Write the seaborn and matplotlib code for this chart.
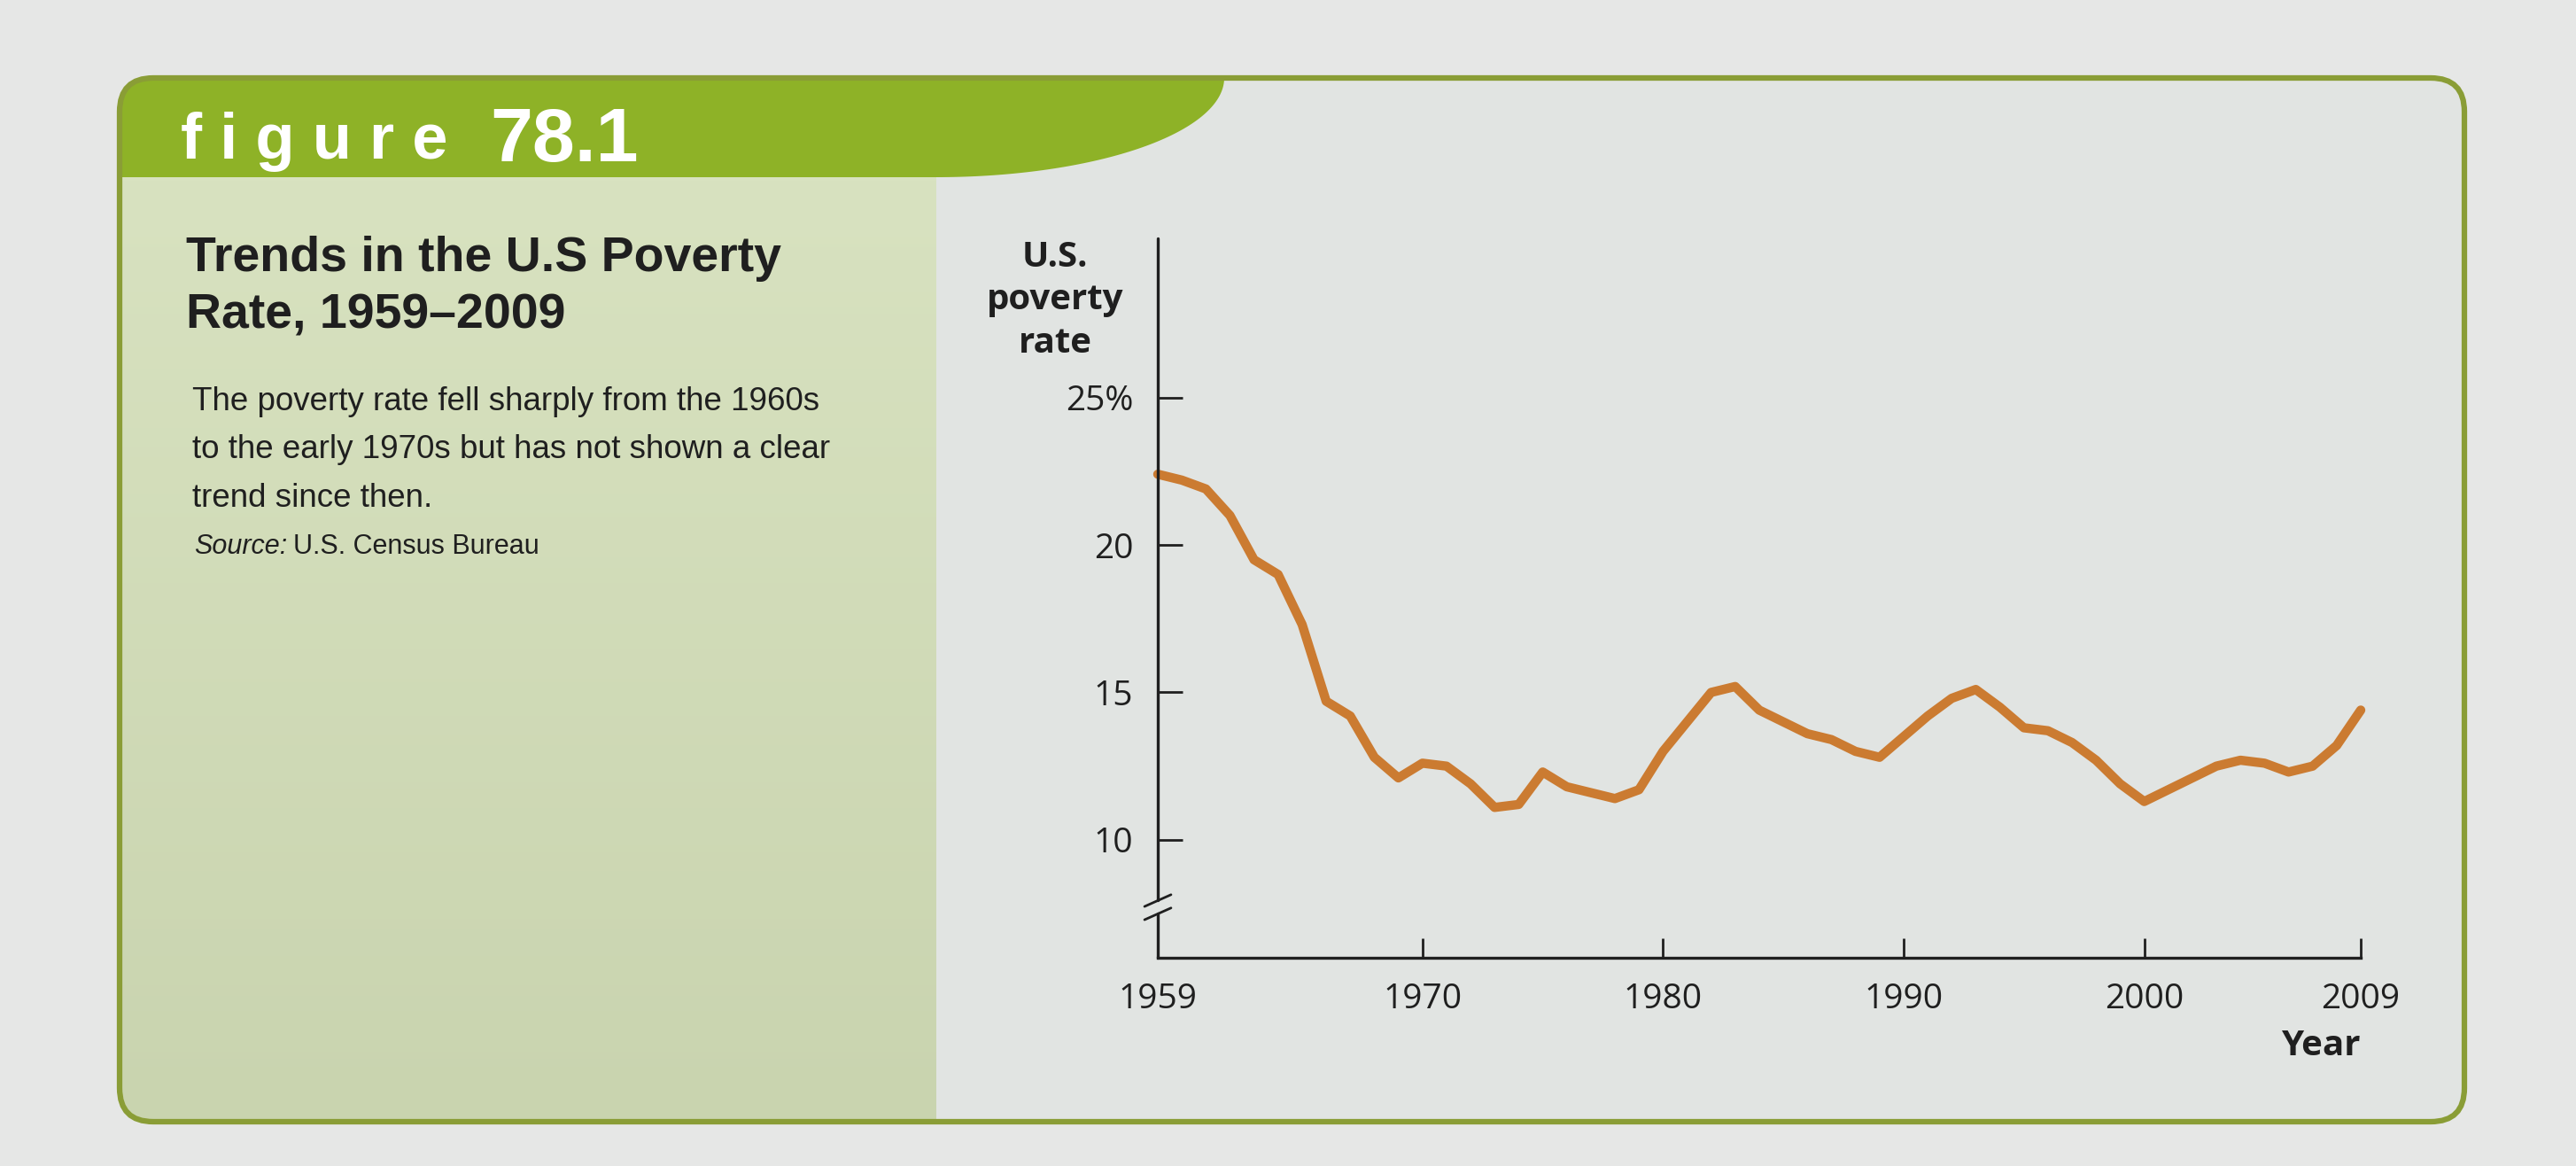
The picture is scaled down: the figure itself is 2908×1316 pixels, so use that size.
import numpy as np
import matplotlib.pyplot as plt
import seaborn as sns
from matplotlib.patches import FancyBboxPatch, PathPatch
from matplotlib.path import Path
from matplotlib.colors import LinearSegmentedColormap

# Data (official U.S. poverty rate, %)
years = [1959, 1960, 1961, 1962, 1963, 1964, 1965, 1966, 1967, 1968,
         1969, 1970, 1971, 1972, 1973, 1974, 1975, 1976, 1977, 1978,
         1979, 1980, 1981, 1982, 1983, 1984, 1985, 1986, 1987, 1988,
         1989, 1990, 1991, 1992, 1993, 1994, 1995, 1996, 1997, 1998,
         1999, 2000, 2001, 2002, 2003, 2004, 2005, 2006, 2007, 2008, 2009]
poverty_rate = [22.4, 22.2, 21.9, 21.0, 19.5, 19.0, 17.3, 14.7, 14.2, 12.8,
                12.1, 12.6, 12.5, 11.9, 11.1, 11.2, 12.3, 11.8, 11.6, 11.4,
                11.7, 13.0, 14.0, 15.0, 15.2, 14.4, 14.0, 13.6, 13.4, 13.0,
                12.8, 13.5, 14.2, 14.8, 15.1, 14.5, 13.8, 13.7, 13.3, 12.7,
                11.9, 11.3, 11.7, 12.1, 12.5, 12.7, 12.6, 12.3, 12.5, 13.2, 14.4]
x_ticks = [1959, 1970, 1980, 1990, 2000, 2009]
y_ticks = [10, 15, 20, 25]
y_tick_labels = ['10', '15', '20', '25%']

sns.set_theme(style='white')
plt.rcParams['font.family'] = ['Open Sans', 'DejaVu Sans']
narrow = ['Liberation Sans Narrow', 'Liberation Sans', 'DejaVu Sans']
ink = '#1f1f1f'

W, H = 2908, 1316
fig = plt.figure(figsize=(W / 100, H / 100), dpi=100)
fig.patch.set_facecolor('#e6e7e6')

# background layer in pixel coordinates
bg = fig.add_axes([0, 0, 1, 1])
bg.axis('off')

frame = FancyBboxPatch((135, 88), 2647, 1178, boxstyle='round,pad=0,rounding_size=38',
                       fc='#e1e4e2', ec='none', zorder=1)
bg.add_patch(frame)

# sage side panel with a soft gradient
grad = np.linspace(0, 1, 256).reshape(-1, 1)
panel_cmap = LinearSegmentedColormap.from_list('panel', ['#d8e2c0', '#c9d4af'])
img = bg.imshow(grad, extent=(135, 1057, 1266, 200), cmap=panel_cmap, aspect='auto',
                zorder=1.5)
img.set_clip_path(frame)

# green header tab with curved edge
t = np.linspace(0, np.pi / 2, 80)
curve = np.column_stack([1057 + 325 * np.cos(t), 88 + 112 * np.sin(t)])
verts = [(135, 200), (135, 88)] + curve.tolist() + [(135, 200)]
tab = PathPatch(Path(verts), fc='#8eb227', ec='none', zorder=2)
bg.add_patch(tab)
tab.set_clip_path(frame)

border = FancyBboxPatch((135, 88), 2647, 1178, boxstyle='round,pad=0,rounding_size=38',
                        fc='none', ec='#8a9d36', lw=4.5, zorder=3)
bg.add_patch(border)

bg.set_xlim(0, W)
bg.set_ylim(H, 0)

# header and side panel text
bg.text(204, 160, 'f i g u r e', color='white', fontsize=52, fontweight='bold',
        family=['Liberation Sans', 'DejaVu Sans'], va='center', ha='left', zorder=4)
bg.text(553, 160, '78.1', color='white', fontsize=62, fontweight='bold',
        family=['Liberation Sans', 'DejaVu Sans'], va='center', ha='left', zorder=4)
bg.text(210, 266, 'Trends in the U.S Poverty\nRate, 1959\u20132009', color=ink, fontsize=40,
        fontweight='bold', family=narrow, va='top', ha='left', linespacing=1.32, zorder=4)
bg.text(217, 436, 'The poverty rate fell sharply from the 1960s\n'
        'to the early 1970s but has not shown a clear\ntrend since then.',
        color=ink, fontsize=26.5, family=narrow, va='top', ha='left', linespacing=1.72,
        zorder=4)
src = bg.text(219, 617, 'Source:', color=ink, fontsize=22, family=narrow, style='italic',
              va='center', ha='left', zorder=4)
bg.annotate('U.S. Census Bureau', xy=(1, 0.5), xycoords=src, xytext=(5, 0),
            textcoords='offset points', color=ink, fontsize=22, family=narrow,
            va='center', ha='left', zorder=4)
bg.text(1191, 339, 'U.S.\npoverty\nrate', color=ink, fontsize=29, fontweight='bold',
        va='center', ha='center', multialignment='center', linespacing=1.32, zorder=4)

# the chart
ax = fig.add_axes([1307 / W, 1 - 1081 / H, (2665 - 1307) / W, (1081 - 269) / H])
ax.patch.set_alpha(0)
sns.lineplot(x=years, y=poverty_rate, ax=ax, color='#cb7b31', linewidth=7.5, clip_on=False)
ax.set_xlim(1959, 2009)
ax.set_ylim(6, 30.4)
for s in ['top', 'right', 'left']:
    ax.spines[s].set_visible(False)
ax.spines['bottom'].set_color(ink)
ax.spines['bottom'].set_linewidth(2.4)

ax.set_xticks(x_ticks)
ax.set_yticks(y_ticks, y_tick_labels)
ax.tick_params(axis='y', direction='in', length=20, width=2, pad=20, labelsize=28,
               color=ink, labelcolor=ink, left=True)
ax.tick_params(axis='x', direction='in', length=16, width=2, pad=20, labelsize=28,
               color=ink, labelcolor=ink, bottom=True)
ax.set_xlabel('')
ax.set_ylabel('')

# broken y axis
ytr = ax.get_yaxis_transform()
ax.plot([0, 0], [7.94, 30.4], transform=ytr, color=ink, lw=2.4, clip_on=False)
ax.plot([0, 0], [6, 7.49], transform=ytr, color=ink, lw=2.4, clip_on=False)
for yb in (7.94, 7.49):
    ax.plot([-0.011, 0.011], [yb - 0.2, yb + 0.2], transform=ytr, color=ink, lw=2,
            clip_on=False)

ax.text(1.0, -0.122, 'Year', transform=ax.transAxes, ha='right', va='center',
        fontsize=29, fontweight='bold', color=ink)

fig.savefig('out.png', dpi=100, facecolor=fig.get_facecolor())
